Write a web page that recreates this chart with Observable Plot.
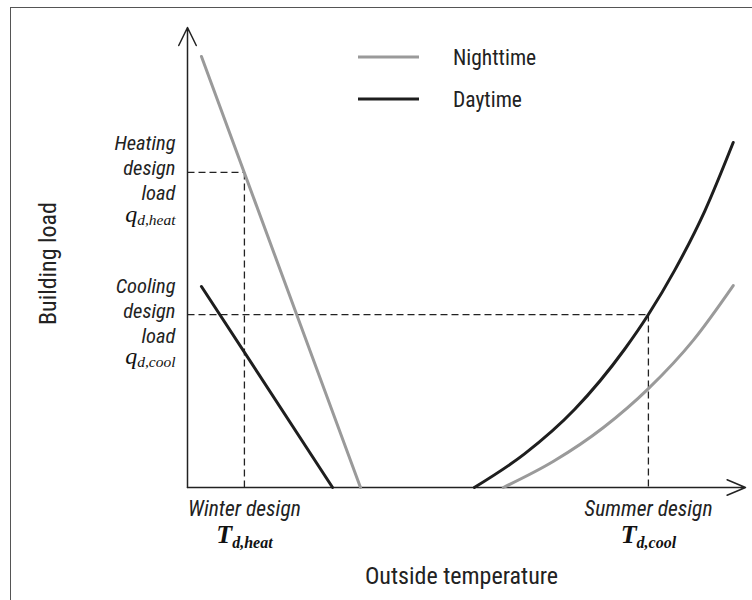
<!DOCTYPE html>
<html><head><meta charset="utf-8">
<script src="https://cdn.jsdelivr.net/npm/d3@7"></script>
<script src="https://cdn.jsdelivr.net/npm/@observablehq/plot@0.6"></script>
<style>
html,body{margin:0;padding:0;background:#fff;overflow:hidden}
#wrap{position:relative;width:752px;height:600px;overflow:hidden}
#frame{position:absolute;left:10px;top:7px;width:800px;height:700px;border:1.5px solid #555;box-sizing:border-box}
#chart{position:absolute;left:0;top:0}
#legend{position:absolute;left:0;top:0}
</style></head><body>
<div id="wrap"><div id="frame"></div><div id="chart"></div><svg id="legend" width="752" height="130"></svg></div>
<script>
// Series (x: outside temperature 0-100, y: building load 0-100)
const nightLeftX = [2.5, 31.0];
const nightLeftY = [93.7, 0];
const dayLeftX = [2.5, 26.0];
const dayLeftY = [43.7, 0];
const dayRightX = [51.4, 60.4, 69.4, 78.3, 82.6, 87.3, 92.7, 97.8];
const dayRightY = [0, 7.3, 17.0, 30.0, 37.6, 47.2, 60.1, 75.0];
const nightRightX = [56.6, 65.6, 74.6, 82.6, 90.7, 97.8];
const nightRightY = [0, 5.7, 13.1, 21.5, 32.1, 43.9];
const designTemps = [10.2, 82.6];   // winter, summer
const designLoads = [68.5, 37.6];   // heating, cooling
const seriesNames = ["Nighttime", "Daytime"];
const seriesColors = ["#9a9a9a", "#1e1e1e"];
const designTempLabels = ["Winter design", "Summer design"];
const designTempSymbols = ["T_d,heat", "T_d,cool"];
const designLoadLabels = ["Heating\ndesign\nload", "Cooling\ndesign\nload"];
const designLoadSymbols = ["q_d,heat", "q_d,cool"];
const axisLabels = ["Outside temperature", "Building load"];

const zip = (xs, ys, s) => xs.map((x, i) => ({x, y: ys[i], s}));
const nightL = zip(nightLeftX, nightLeftY, 0), dayL = zip(dayLeftX, dayLeftY, 1);
const nightR = zip(nightRightX, nightRightY, 0), dayR = zip(dayRightX, dayRightY, 1);
const dashes = [
  {x1: 0, y1: designLoads[0], x2: designTemps[0], y2: designLoads[0]},
  {x1: designTemps[0], y1: designLoads[0], x2: designTemps[0], y2: 0},
  {x1: 0, y1: designLoads[1], x2: designTemps[1], y2: designLoads[1]},
  {x1: designTemps[1], y1: designLoads[1], x2: designTemps[1], y2: 0}
];
const tempLab = designTemps.map((t, i) => ({t, label: designTempLabels[i], sym: designTempSymbols[i]}));
const loadLab = designLoads.map((q, i) => ({q, label: designLoadLabels[i], sym: designLoadSymbols[i]}));

const SANS = "'Liberation Sans Narrow', 'Arial Narrow', 'Roboto Condensed', Roboto, sans-serif";
const SERIF = "'Liberation Serif', 'DejaVu Serif', serif";

const plot = Plot.plot({
  width: 752, height: 600,
  marginLeft: 187, marginRight: 7, marginTop: 27, marginBottom: 113,
  x: {domain: [0, 100], axis: null},
  y: {domain: [0, 100], axis: null},
  style: {background: "transparent", fontFamily: SANS, overflow: "visible"},
  marks: [
    Plot.link(dashes, {x1: "x1", y1: "y1", x2: "x2", y2: "y2", stroke: "#222", strokeWidth: 1.3, strokeDasharray: "7,4"}),
    Plot.arrow([{a: 0}], {x1: 0, y1: 0, x2: 100, y2: 0, stroke: "#222", strokeWidth: 1.5, headLength: 20, headAngle: 46}),
    Plot.arrow([{a: 0}], {x1: 0, y1: 0, x2: 0, y2: 100, stroke: "#222", strokeWidth: 1.5, headLength: 20, headAngle: 52}),
    Plot.line(nightL, {x: "x", y: "y", stroke: seriesColors[0], strokeWidth: 3}),
    Plot.line(dayL, {x: "x", y: "y", stroke: seriesColors[1], strokeWidth: 3}),
    Plot.line(nightR, {x: "x", y: "y", stroke: seriesColors[0], strokeWidth: 3, curve: "monotone-x"}),
    Plot.line(dayR, {x: "x", y: "y", stroke: seriesColors[1], strokeWidth: 3, curve: "monotone-x"}),
    // temperature labels
    Plot.text(tempLab, {x: "t", y: 0, text: "label", dy: 22, fontSize: 21.5, fontStyle: "italic", fill: "#222"}),
    Plot.text(tempLab, {x: "t", y: 0, text: "sym", dy: 47, fontSize: 26, fontFamily: SERIF, fontStyle: "italic", fontWeight: "bold", fill: "#111"}),
    // load labels
    Plot.text(loadLab, {x: 0, y: "q", text: "label", textAnchor: "end", dx: -12, dy: -5, lineAnchor: "middle", lineHeight: 1.22, fontSize: 20.5, fontStyle: "italic", fill: "#222"}),
    Plot.text(loadLab, {x: 0, y: "q", text: "sym", textAnchor: "end", dx: -12, dy: 42, fontSize: 24, fontFamily: SERIF, fontStyle: "italic", fill: "#111"}),
    // axis titles
    Plot.text([axisLabels[0]], {frameAnchor: "bottom", text: d => d, dy: 96, dx: -5, fontSize: 24, fill: "#222"}),
    Plot.text([axisLabels[1]], {frameAnchor: "left", text: d => d, textAnchor: "middle", rotate: -90, dx: -139, dy: 6, fontSize: 24, fill: "#222"})
  ]
});

// turn "X_sub" texts into main + subscript tspans
d3.select(plot).selectAll("text").each(function() {
  const t = this.textContent;
  if (!/^[qT]_/.test(t)) return;
  const [main, sub] = t.split("_");
  const el = d3.select(this);
  const bold = main === "T";
  el.text(null);
  el.append("tspan").text(main);
  el.append("tspan").attr("font-size", bold ? 16 : 15.5).attr("dy", bold ? "0.33em" : "0.2em").text(sub);
});
document.getElementById("chart").appendChild(plot);

// legend
const lg = d3.select("#legend");
const ly = [57, 99];
seriesNames.forEach((name, i) => {
  lg.append("line").attr("x1", 358).attr("x2", 419).attr("y1", ly[i]).attr("y2", ly[i])
    .attr("stroke", seriesColors[i]).attr("stroke-width", 3);
  lg.append("text").attr("x", 453).attr("y", ly[i]).attr("dy", "0.35em")
    .attr("font-family", SANS).attr("font-size", 21.5).attr("fill", "#222").text(name);
});
</script></body></html>
